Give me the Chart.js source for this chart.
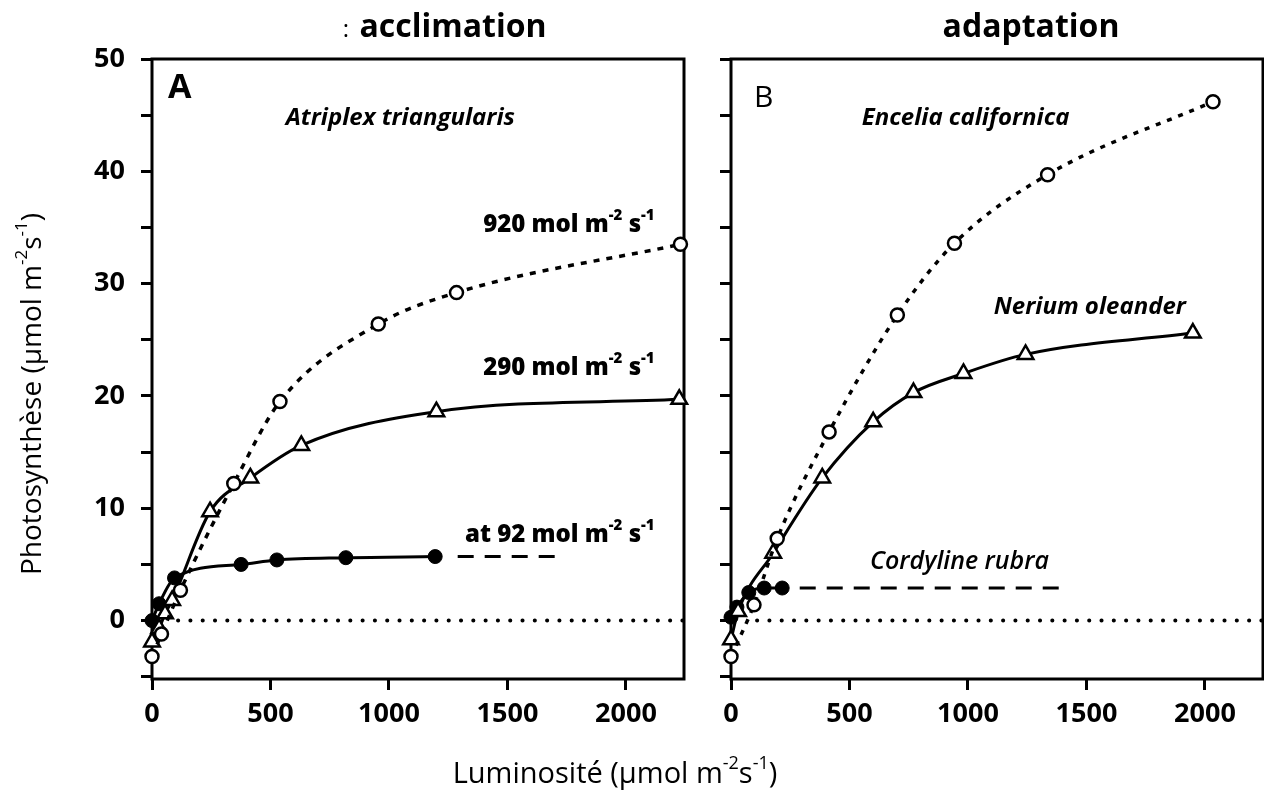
<!DOCTYPE html>
<html>
<head>
<meta charset="utf-8">
<title>Photosynthèse : acclimation / adaptation</title>
<script src="https://cdn.jsdelivr.net/npm/chart.js@4.4.1/dist/chart.umd.min.js"></script>
<style>
  html, body { margin: 0; background: #fff; overflow: hidden; }
  #wrap { position: relative; width: 1264px; height: 794px; overflow: hidden; }
  #wrap canvas { position: absolute; top: 0; }
</style>
</head>
<body>
<div id="wrap">
  <canvas id="chartA" width="1264" height="794" style="left:0"></canvas>
  <canvas id="chartB" width="600" height="794" style="left:700px"></canvas>
</div>
<script>
// ---- axes ----
const X_MAX = 2245;
const Y_MIN = -5.2;
const Y_MAX = 50;
const xTicks = [0, 500, 1000, 1500, 2000];
const yTicks = [-5, 0, 5, 10, 15, 20, 25, 30, 35, 40, 45, 50];
const yLabelled = [0, 10, 20, 30, 40, 50];

// ---- panel A : Atriplex triangularis (acclimation) ----
const a920X = [0, 40, 120, 345, 540, 955, 1285, 2230];
const a920Y = [-3.2, -1.2, 2.7, 12.2, 19.5, 26.4, 29.2, 33.5];
const a290X = [0, 30, 55, 85, 245, 415, 630, 1200, 2225];
const a290Y = [-1.9, -0.7, 0.6, 1.8, 9.7, 12.7, 15.6, 18.6, 19.7];
const a92X = [0, 30, 95, 376, 527, 818, 1195];
const a92Y = [0, 1.5, 3.8, 5.0, 5.4, 5.6, 5.7];
const a92DashX = [1290, 1715];
const a92DashY = [5.7, 5.7];

// ---- panel B : adaptation ----
const enceliaX = [0, 97, 195, 414, 702, 943, 1336, 2034];
const enceliaY = [-3.2, 1.4, 7.3, 16.8, 27.2, 33.6, 39.7, 46.2];
const neriumX = [0, 30, 178, 385, 600, 770, 981, 1243, 1949];
const neriumY = [-1.7, 0.8, 6.0, 12.7, 17.7, 20.3, 22.0, 23.7, 25.6];
const cordylineX = [0, 25, 75, 140, 216];
const cordylineY = [0.3, 1.2, 2.5, 2.9, 2.9];
const cordDashX = [290, 1385];
const cordDashY = [2.9, 2.9];

// compensation line (A = 0)
const zeroX = [110, 2245];
const zeroY = [0, 0];

const FONT = "'Open Sans', 'DejaVu Sans', sans-serif";
const pts = (xs, ys) => xs.map((x, i) => ({ x, y: ys[i] }));

// ---- dataset looks ----
function series(xs, ys, look) {
  return Object.assign({
    data: pts(xs, ys),
    showLine: true,
    borderColor: '#000',
    borderWidth: 3,
    cubicInterpolationMode: 'monotone',
    tension: 0.4,
    pointRadius: 0,
    pointBorderColor: '#000',
    pointBorderWidth: 2.5,
    pointBackgroundColor: '#fff',
    clip: false
  }, look);
}
const openCircle = { pointStyle: 'circle', pointRadius: 6.5 };
const openTriangle = { pointStyle: 'triangle', pointRadius: 9 };
const filledDot = { pointStyle: 'circle', pointRadius: 7, pointBackgroundColor: '#000', pointBorderWidth: 1 };
const dotted = { borderDash: [6, 7], borderWidth: 3.5 };
const dashed = { borderDash: [16, 11], borderWidth: 3, cubicInterpolationMode: 'default', tension: 0 };
const zeroLook = { borderDash: [0.1, 12.2], borderWidth: 4, borderCapStyle: 'round', cubicInterpolationMode: 'default', tension: 0 };

// ---- text with superscripts: 'm^-2' ----
function richText(ctx, str, x, y, align, size, weight, style) {
  const parts = str.split(/\^(-?\d+)/);
  const base = `${style} ${weight} ${size}px ${FONT}`;
  const sup = `${style} ${weight} ${Math.round(size * 0.62)}px ${FONT}`;
  let w = 0;
  parts.forEach((p, i) => { ctx.font = i % 2 ? sup : base; w += ctx.measureText(p).width; });
  let cx = align === 'center' ? x - w / 2 : align === 'right' ? x - w : x;
  ctx.textAlign = 'left';
  ctx.textBaseline = 'middle';
  ctx.fillStyle = '#000';
  parts.forEach((p, i) => {
    ctx.font = i % 2 ? sup : base;
    ctx.fillText(p, cx, i % 2 ? y - size * 0.38 : y);
    cx += ctx.measureText(p).width;
  });
}

// frame round the plot + notes placed in data units
const panelPlugin = {
  id: 'panel',
  beforeDatasetsDraw(chart) {
    const { ctx, chartArea: a } = chart;
    ctx.save();
    ctx.strokeStyle = '#000';
    ctx.lineWidth = 3;
    ctx.strokeRect(a.left, a.top, a.right - a.left, a.bottom - a.top);
    ctx.restore();
  },
  afterDatasetsDraw(chart, args, opts) {
    const { ctx, scales } = chart;
    ctx.save();
    (opts.notes || []).forEach(n => {
      richText(ctx, n.text, scales.x.getPixelForValue(n.x), scales.y.getPixelForValue(n.y),
        n.align, n.size, n.weight, n.style);
    });
    ctx.restore();
  }
};

// figure titles, drawn once on the wide canvas
const figurePlugin = {
  id: 'figure',
  afterDraw(chart) {
    const ctx = chart.ctx;
    ctx.save();
    richText(ctx, ':', 346, 30, 'center', 24, 'normal', 'normal');
    richText(ctx, 'acclimation', 453, 28, 'center', 32, 'bold', 'normal');
    richText(ctx, 'adaptation', 1031, 28, 'center', 32, 'bold', 'normal');
    richText(ctx, 'Luminosité (µmol m^-2s^-1)', 615, 775, 'center', 29, 'normal', 'normal');
    ctx.translate(33, 394);
    ctx.rotate(-Math.PI / 2);
    richText(ctx, 'Photosynthèse (µmol m^-2s^-1)', 0, 0, 'center', 28, 'normal', 'normal');
    ctx.restore();
  }
};

function makeScales(axisWidth, showYLabels) {
  const tickGrid = { drawOnChartArea: false, drawTicks: true, tickLength: 11, lineWidth: 3, color: '#000' };
  const tickFont = { family: FONT, size: 27, weight: 'bold' };
  return {
    x: {
      type: 'linear', min: 0, max: X_MAX,
      border: { display: false },
      grid: tickGrid,
      afterBuildTicks: s => { s.ticks = xTicks.map(v => ({ value: v })); },
      afterFit: s => { s.height = 115; s.paddingLeft = 0; s.paddingRight = 0; },
      ticks: { autoSkip: false, maxRotation: 0, color: '#000', padding: 8, font: tickFont, callback: v => String(v) }
    },
    y: {
      type: 'linear', min: Y_MIN, max: Y_MAX,
      border: { display: false },
      grid: tickGrid,
      afterBuildTicks: s => { s.ticks = yTicks.map(v => ({ value: v })); },
      afterFit: s => { s.width = axisWidth; s.paddingTop = 0; s.paddingBottom = 0; },
      ticks: {
        autoSkip: false, color: '#000', padding: 16, font: tickFont,
        callback: v => (showYLabels && yLabelled.includes(v)) ? String(v) : ''
      }
    }
  };
}

function baseOptions(padding, axisWidth, showYLabels, notes) {
  return {
    responsive: false,
    devicePixelRatio: 1,
    animation: false,
    events: [],
    layout: { padding },
    scales: makeScales(axisWidth, showYLabels),
    plugins: { legend: { display: false }, tooltip: { enabled: false }, panel: { notes } }
  };
}

// ---- panel A ----
new Chart(document.getElementById('chartA'), {
  type: 'scatter',
  data: {
    datasets: [
      series(a920X, a920Y, Object.assign({}, openCircle, dotted)),
      series(a290X, a290Y, openTriangle),
      series(a92X, a92Y, filledDot),
      series(a92DashX, a92DashY, dashed),
      series(zeroX, zeroY, zeroLook)
    ]
  },
  options: baseOptions({ top: 59, right: 580, left: 0, bottom: 0 }, 152, true, [
    { text: 'A', x: 68, y: 47.4, align: 'left', size: 34, weight: 'bold', style: 'normal' },
    { text: 'Atriplex triangularis', x: 1048, y: 44.75, align: 'center', size: 24, weight: 'bold', style: 'italic' },
    { text: '920 mol m^-2 s^-1', x: 2121, y: 35.2, align: 'right', size: 24, weight: '800', style: 'normal' },
    { text: '290 mol m^-2 s^-1', x: 2121, y: 22.5, align: 'right', size: 24, weight: '800', style: 'normal' },
    { text: 'at 92 mol m^-2 s^-1', x: 2121, y: 7.65, align: 'right', size: 24, weight: '800', style: 'normal' }
  ]),
  plugins: [panelPlugin, figurePlugin]
});

// ---- panel B (canvas runs past the page edge; plot right edge at page x 1263) ----
new Chart(document.getElementById('chartB'), {
  type: 'scatter',
  data: {
    datasets: [
      series(enceliaX, enceliaY, Object.assign({}, openCircle, dotted, { borderDash: [5, 7] })),
      series(neriumX, neriumY, openTriangle),
      series(cordylineX, cordylineY, filledDot),
      series(cordDashX, cordDashY, dashed),
      series(zeroX, zeroY, zeroLook)
    ]
  },
  options: baseOptions({ top: 59, right: 37, left: 0, bottom: 0 }, 31, false, [
    { text: 'B', x: 97, y: 46.5, align: 'left', size: 30, weight: 'normal', style: 'normal' },
    { text: 'Encelia californica', x: 990, y: 44.75, align: 'center', size: 24, weight: 'bold', style: 'italic' },
    { text: 'Nerium oleander', x: 1514, y: 27.9, align: 'center', size: 24, weight: 'bold', style: 'italic' },
    { text: 'Cordyline rubra', x: 964, y: 5.25, align: 'center', size: 25, weight: '600', style: 'italic' }
  ]),
  plugins: [panelPlugin]
});
</script>
</body>
</html>
